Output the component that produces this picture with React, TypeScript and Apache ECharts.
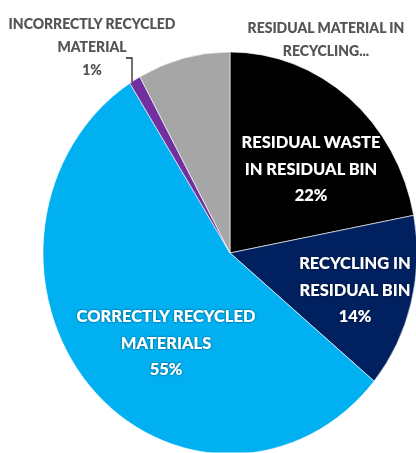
import React, { useEffect, useRef } from "react";
import * as echarts from "echarts";

const categories = [
  "Residual waste in residual bin",
  "Recycling in residual bin",
  "Correctly recycled materials",
  "Incorrectly recycled material",
  "Residual material in recycling bin",
];
const values = [22, 14, 55, 1, 8];
const labelTexts = [
  "RESIDUAL WASTE\nIN RESIDUAL BIN\n22%",
  "RECYCLING IN\nRESIDUAL BIN\n14%",
  "CORRECTLY RECYCLED\nMATERIALS\n55%",
  "INCORRECTLY RECYCLED\nMATERIAL\n1%",
  "RESIDUAL MATERIAL IN\nRECYCLING...",
];
const colors = ["#000000", "#002060", "#00B0F0", "#7030A0", "#A6A6A6"];

const SY = 1.075;
const H = 453 / SY;
// label centres in chart (unscaled) coordinates
const labelPos: [number, number][] = [
  [311, 168 / SY],
  [355, 289 / SY],
  [166, 342 / SY],
  [92, 46 / SY],
  [326, 39 / SY],
];

export default function App() {
  const ref = useRef<HTMLDivElement>(null);
  useEffect(() => {
    document.body.style.margin = "0";
    const chart = echarts.init(ref.current!, undefined, { renderer: "svg" });
    const inside = {
      color: "#ffffff",
      fontFamily: "Lato",
      fontWeight: 900,
      fontSize: 16.5,
      lineHeight: 24.5,
      align: "center" as const,
      textShadowColor: "rgba(0,0,0,0.6)",
      textShadowBlur: 2,
    };
    const outside = {
      color: "#545454",
      fontFamily: "Lato",
      fontWeight: 900,
      fontSize: 14,
      lineHeight: 21.5,
      align: "center" as const,
      textShadowColor: "rgba(0,0,0,0.25)",
      textShadowBlur: 1,
    };
    chart.setOption({
      animation: false,
      series: [
        {
          type: "pie",
          center: [230, 253 / SY],
          radius: [0, 187],
          startAngle: 90,
          clockwise: true,
          avoidLabelOverlap: false,
          labelLine: { show: false },
          itemStyle: { borderColor: "#ffffff", borderWidth: 0.6 },
          data: categories.map((name, i) => ({
            name,
            value: values[i],
            itemStyle: { color: colors[i] },
            label: {
              show: true,
              position: i < 3 ? "inside" : "outside",
              formatter: labelTexts[i],
              ...(i < 3 ? inside : outside),
            },
            labelLine: { show: false },
          })),
          labelLayout: (params: any) => ({
            x: labelPos[params.dataIndex][0],
            y: labelPos[params.dataIndex][1],
            align: "center",
            verticalAlign: "middle",
          }),
        },
      ],
      graphic: [
        {
          type: "polyline",
          shape: {
            points: [
              [126, 58 / SY],
              [132, 58 / SY],
              [132, 82 / SY],
            ],
          },
          style: { stroke: "#262626", lineWidth: 1.3, fill: "none" },
          z: 10,
        },
      ],
    });
    return () => chart.dispose();
  }, []);
  return (
    <div
      ref={ref}
      style={{
        position: "absolute",
        left: 0,
        top: 0,
        width: 416,
        height: H,
        transform: `scaleY(${SY})`,
        transformOrigin: "top left",
      }}
    />
  );
}
